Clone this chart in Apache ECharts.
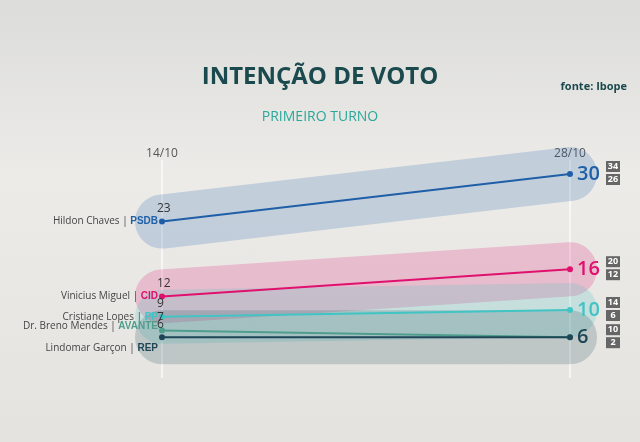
<!DOCTYPE html><html><head><meta charset="utf-8"><script src="https://cdn.jsdelivr.net/npm/echarts@6/dist/echarts.min.js"></script>
<style>body{margin:0}#c{width:640px;height:442px;background:linear-gradient(#dcdcda,#ecebe8 40%,#e4e3e0)}</style></head><body><div id="c"></div><script>
const dates=['14/10','28/10'];
const names=['Hildon Chaves','Vinicius Miguel','Cristiane Lopes','Dr. Breno Mendes','Lindomar Garçon'];
const parties=['PSDB','CID','PP','AVANTE','REP'];
const colors=['#1f5fa8','#e0106e','#40c4c4','#4f9e8c','#1d4656'];
const hildon=[23,30], vinicius=[12,16], cristiane=[9,10], breno=[7,6], lindomar=[6,6];
const highs=[34,20,14,null,10], lows=[26,12,6,null,2];
const vals=[hildon,vinicius,cristiane,breno,lindomar];
const nameOffsets=[0,0,0,-4,11];
const ch=echarts.init(document.getElementById('c'));
const series=[];
vals.forEach((v,i)=>{ if(highs[i]==null) return;
 series.push({type:'line',data:[[0,v[0]],[1,(highs[i]+lows[i])/2]],symbol:'none',silent:true,z:1,
  lineStyle:{width:54,cap:'round',color:colors[i],opacity:0.2}});});
vals.forEach((v,i)=>{
 series.push({type:'line',data:v.map((y,j)=>[j,y]),symbol:'circle',symbolSize:6,z:5,
  itemStyle:{color:colors[i]},lineStyle:{width:2,color:colors[i]},
  label:{show:true,formatter:p=>p.dataIndex==0?p.value[1]:'',position:[-2,-16],color:'#333',fontSize:12,fontFamily:'Open Sans'},
  endLabel:{show:i!=3,formatter:p=>p.value[1],color:colors[i],fontSize:20,fontWeight:600,fontFamily:'Open Sans',distance:7}});
});
ch.setOption({animation:false,
 grid:{left:162,right:70,top:106,height:272},
 xAxis:{type:'value',min:0,max:1,show:false},
 yAxis:{type:'value',min:0,max:40,show:false},
 title:[{text:'INTENÇÃO DE VOTO',left:'center',top:60,textStyle:{color:'#1b4a4e',fontSize:24,fontWeight:'bold',fontFamily:'Open Sans'}},
  {text:'fonte: Ibope',right:8,top:76,textStyle:{color:'#1b4a4e',fontSize:11,fontWeight:'bold',fontFamily:'Open Sans'}},
  {text:'PRIMEIRO TURNO',left:'center',top:105,textStyle:{color:'#2aa89a',fontSize:14,fontWeight:'normal',fontFamily:'Open Sans'}}],
 series});
const g=[];
dates.forEach((d,j)=>{const p=ch.convertToPixel({gridIndex:0},[j,0]);
 g.push({type:'line',shape:{x1:p[0],y1:160,x2:p[0],y2:p[1]},style:{stroke:'#fff',lineWidth:1.5,opacity:0.8},z:0});
 g.push({type:'text',x:p[0],y:148,style:{text:d,align:'center',fill:'#555',fontSize:12,fontFamily:'Open Sans'}});});
vals.forEach((v,i)=>{const p=ch.convertToPixel({gridIndex:0},[0,v[0]]);
 g.push({type:'text',x:p[0]-4,y:p[1]+nameOffsets[i],style:{text:names[i]+' | {b|'+parties[i]+'}',align:'right',verticalAlign:'middle',fill:'#444',fontSize:10,fontFamily:'Open Sans',
  rich:{b:{fill:colors[i],fontWeight:'bold',fontSize:10}}},z:10});
 if(highs[i]!=null){const q=ch.convertToPixel({gridIndex:0},[1,v[1]]);
  [highs[i],lows[i]].forEach((t,k)=>g.push({type:'text',x:613,y:q[1]-13+k*13,style:{text:String(t),align:'center',fill:'#fff',backgroundColor:'#666',padding:[1,2],width:10,fontSize:9,fontWeight:'bold',fontFamily:'Open Sans'},z:10}));}
});
ch.setOption({graphic:g});
</script></body></html>
